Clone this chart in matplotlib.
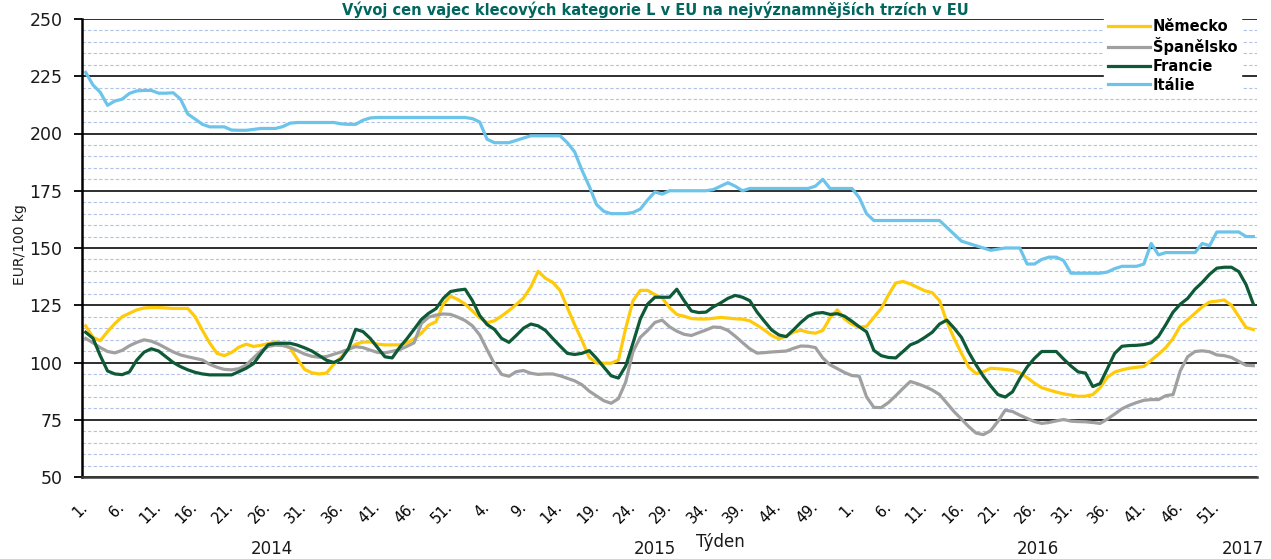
import matplotlib.pyplot as plt
import matplotlib.transforms as mtransforms
import numpy as np

# categories: weeks 2014 .. 2017
years = [2014, 2015, 2016, 2017]
weeks_in_year = [52, 53, 52, 4]

week_nums = []
for n in weeks_in_year:
    week_nums += list(range(1, n + 1))

# EUR/100 kg, one value per week
nemecko = [116, 111, 109.5, 113.5, 117, 120, 121.5, 123, 123.8, 124, 124, 123.8, 123.6, 123.6, 123.6, 120,
           114, 108.5, 104, 103, 104.4, 106.7, 108, 107, 107.5, 108.2, 109, 108.3, 106.3, 101.5, 97, 95.5,
           95, 95.4, 99.2, 102.4, 105.6, 108, 108.9, 109,
           108, 107.7, 107.7, 107.7, 108.5, 110.3, 112.8, 116.3, 117.8, 125.5, 129, 127.5, 125.5, 122.5,
           119.5, 117.4, 118.2, 120.3, 122.7, 125.3, 128.2, 133, 139.8, 136.8, 135, 131.5, 124, 116.5,
           109.7, 102.2, 99.8, 99.7, 99.7, 101, 115, 127, 131.5, 131.5, 129.6, 128.2, 124, 121, 120.2,
           119.2, 119, 119, 119.3, 119.7, 119.4, 119.1, 118.9, 118.2, 116.3, 114.2, 111.8, 110.3, 111.5,
           113.3, 114.1, 113.2, 112.8, 114, 119.5, 123, 119, 116.7, 115.4, 115.8, 119.7, 123.5, 129.5,
           134.7, 135.4, 134.3, 132.8, 131.3, 130.5, 127, 117.8, 110.5,
           104, 98, 95.2, 96, 97.5, 97.3, 97, 96.6, 95.5, 93.4, 91, 89, 88, 87.1, 86.3, 85.8, 85.2, 85.3,
           86, 89, 93.6, 95.8, 96.8, 97.5, 97.9, 98.3, 101, 103.6, 106.5, 110.5, 116, 118.7, 121.5,
           124.3, 126.4, 126.8, 127.3, 125, 120.1, 115.3, 114.4]

spanelsko = [110.5, 108.6, 106.5, 104.8, 104.2, 105.3, 107.3, 108.8, 109.9, 109.3, 108, 106.3, 104.6,
             103.3, 102.5, 101.8, 101.1, 99.2, 97.9, 97, 96.8, 97.3, 98.9, 102, 105, 107, 107.6, 107.4,
             106.6, 105.2, 103.7, 102.7, 102.3, 102.6, 103.6, 104.6, 105.8, 106.9, 106.5, 105.4,
             104.4, 104.2, 104.9, 105.6, 107, 108.6, 117, 119.8, 120.7, 121.2, 121, 119.8, 118.3, 116,
             112, 105.6, 99.5, 94.8, 94, 96, 96.5, 95.3, 94.8, 95, 95, 94.2, 93.1, 92, 90.3, 87.5, 85.4,
             83.3, 82.2, 84.2, 91.5, 104.8, 111, 114, 117.5, 118.5, 115.6, 113.7, 112.3,
             111.8, 113, 114.2, 115.5, 115.3, 114, 111.5, 108.7, 106, 104.1, 104.3, 104.6, 104.8, 105,
             106.2, 107.2, 107.1, 106.5, 102, 99, 97.3, 95.6, 94.3, 94, 85, 80.4, 80.3, 82.5, 85.5, 88.7,
             91.7, 90.7, 89.5, 88, 86, 82.3, 78.5,
             75.3, 72, 69.2, 68.5, 70.2, 74.3, 79.2, 78.6, 77, 75.6, 74.2, 73.4, 73.8, 74.5, 75.1, 74.4,
             74.2, 74.1, 73.8, 73.4, 75.3, 77.5, 79.8, 81.3, 82.5, 83.5, 83.8, 83.8, 85.5, 86, 96.5,
             102.5, 104.8, 105.1, 104.7, 103.3, 103, 102.2, 100.5, 98.8, 98.6]

francie = [113.2, 110.6, 103, 96.3, 95, 94.7, 95.9, 101, 104.5, 106, 105, 102.5, 100, 98.2, 96.8, 95.7,
           95, 94.6, 94.6, 94.6, 94.6, 96, 97.5, 99.5, 103.8, 107.8, 108.3, 108.4, 108.4, 107.6, 106.4,
           105, 103, 101, 100, 101.5, 106, 114.5, 113.5, 110.5,
           106.5, 102.5, 102, 106.5, 110.3, 114.5, 118.8, 121.5, 123.5, 128, 131, 131.6, 132, 127,
           120.5, 116.6, 114.5, 110.5, 108.8, 111.8, 115, 116.8, 116, 114, 110.5, 107.2, 104, 103.5,
           104, 105.2, 101.8, 98, 94.2, 93.2, 98.5, 108.5, 119, 125.5, 128.5, 128.5, 128.5, 132, 127,
           122.5, 121.8, 122, 124.3, 126, 128, 129.3, 128.5, 127, 122, 118, 114.2, 112, 111.3, 114.3,
           117.5, 120.2, 121.5, 121.8, 121, 121.3, 120.2, 118, 115.6, 113.4, 105.3, 103, 102.2, 102,
           104.8, 107.7, 109, 111, 113.2, 116.8, 118.5, 115,
           111, 104.5, 99, 94, 89.8, 86, 84.9, 87.2, 93, 98, 101.8, 104.8, 104.8, 104.8, 101.5, 98.5,
           95.9, 95.4, 89.5, 90.8, 97.3, 104, 107.1, 107.4, 107.5, 107.8, 108.6, 111.4, 116.5, 122,
           125.5, 128, 132, 135, 138.5, 141.2, 141.6, 141.6, 139.7, 134, 125.5]

italie = [226.7, 221.2, 218, 212.3, 214.2, 215, 217.5, 218.6, 218.8, 218.8, 217.6, 217.6, 217.8, 215,
          208.5, 206.3, 204, 202.9, 202.9, 202.9, 201.5, 201.4, 201.4, 201.8, 202.2, 202.2, 202.2, 203,
          204.5, 204.8, 204.8, 204.8, 204.8, 204.8, 204.8, 204.2, 204, 204, 205.8, 206.8,
          207, 207, 207, 207, 207, 207, 207, 207, 207, 207, 207, 207, 207, 206.5, 205, 197.5, 196,
          196, 196, 197, 198, 199, 199, 199, 199, 199, 196, 192, 184, 177, 169, 166, 165, 165, 165,
          165.5, 167, 171, 174.5, 173.5, 175, 175, 175,
          175, 175, 175, 175.5, 177, 178.5, 177, 175, 176, 176, 176, 176, 176, 176, 176, 176, 176,
          177, 180, 176, 176, 176, 176, 172, 165, 162, 162, 162, 162, 162, 162, 162, 162, 162, 162,
          159, 156,
          153, 152, 151, 150, 149, 149.5, 150, 150, 150, 143, 143, 145, 146, 146, 144.5, 139, 139, 139,
          139, 139, 139.5, 141, 142, 142, 142, 143, 152, 147, 148, 148, 148, 148, 148, 152, 151, 157,
          157, 157, 157, 155, 155]

series = [
    ('Německo', nemecko, '#FFCA0A'),
    ('Španělsko', spanelsko, '#A0A0A0'),
    ('Francie', francie, '#0E5A36'),
    ('Itálie', italie, '#6CC4EA'),
]

W, H = 1271, 559
fig = plt.figure(figsize=(W / 100, H / 100), dpi=100)
ax = fig.add_axes([82 / W, 1 - 477 / H, (1257 - 82) / W, (477 - 19) / H])

for name, vals, col in series:
    ax.plot(np.arange(len(vals)), vals, color=col, lw=2.3, label=name, solid_joinstyle='round')

n_cat = len(week_nums)
ax.set_xlim(-0.5, n_cat - 0.5)
ax.set_ylim(50, 250)

ax.set_yticks(range(50, 251, 25))
ax.set_yticks(range(50, 251, 5), minor=True)
ax.set_axisbelow(True)
ax.grid(which='major', axis='y', color='#1e1e1e', lw=1.3)
ax.grid(which='minor', axis='y', color='#b0c2e8', lw=0.8, ls=(0, (3, 2)))
ax.tick_params(axis='y', which='major', length=6, width=1.3, pad=8, labelsize=12.5, labelcolor='#1a1a1a')
ax.tick_params(axis='y', which='minor', length=0)

ticks = list(range(0, 156, 5))
ax.set_xticks(ticks)
ax.set_xticklabels([f'{week_nums[i]}.' for i in ticks], rotation=45, ha='right', va='center',
                   rotation_mode='anchor', fontsize=10.5)
ax.tick_params(axis='x', length=0, pad=20)

for s in ['top', 'right']:
    ax.spines[s].set_visible(False)
ax.spines['left'].set_linewidth(1.8)
ax.spines['left'].set_color('black')
ax.spines['bottom'].set_linewidth(1.8)
ax.spines['bottom'].set_color('#3a3a3a')

# year labels under the week labels
trans = mtransforms.blended_transform_factory(ax.transData, fig.transFigure)
start = 0
for yr, n in zip(years, weeks_in_year):
    ax.text(start + (n - 1) / 2, 1 - 549 / H, str(yr), transform=trans, ha='center', va='center',
            fontsize=12, color='#1a1a1a')
    start += n

fig.text(720 / W, 1 - 542 / H, 'Týden', ha='center', va='center', fontsize=12, color='#1a1a1a')
fig.text(20 / W, 1 - 245 / H, 'EUR/100 kg', rotation=90, ha='center', va='center', fontsize=10,
         color='#1a1a1a')

fig.text(655 / W, 1 - 1 / H, 'Vývoj cen vajec klecových kategorie L v EU na nejvýznamnějších trzích v EU',
         ha='center', va='top', fontsize=10.5, weight='bold', color='#00665E')

ax.legend(loc='upper left', bbox_to_anchor=(1104 / W, 1 - 15 / H), bbox_transform=fig.transFigure,
          frameon=True, facecolor='white', edgecolor='white', framealpha=1, fancybox=False,
          prop={'weight': 'bold', 'size': 10.5}, handlelength=2.9, handletextpad=0.2,
          labelspacing=0.25, borderpad=0.25, borderaxespad=0)

fig.savefig('out.png', dpi=100)
